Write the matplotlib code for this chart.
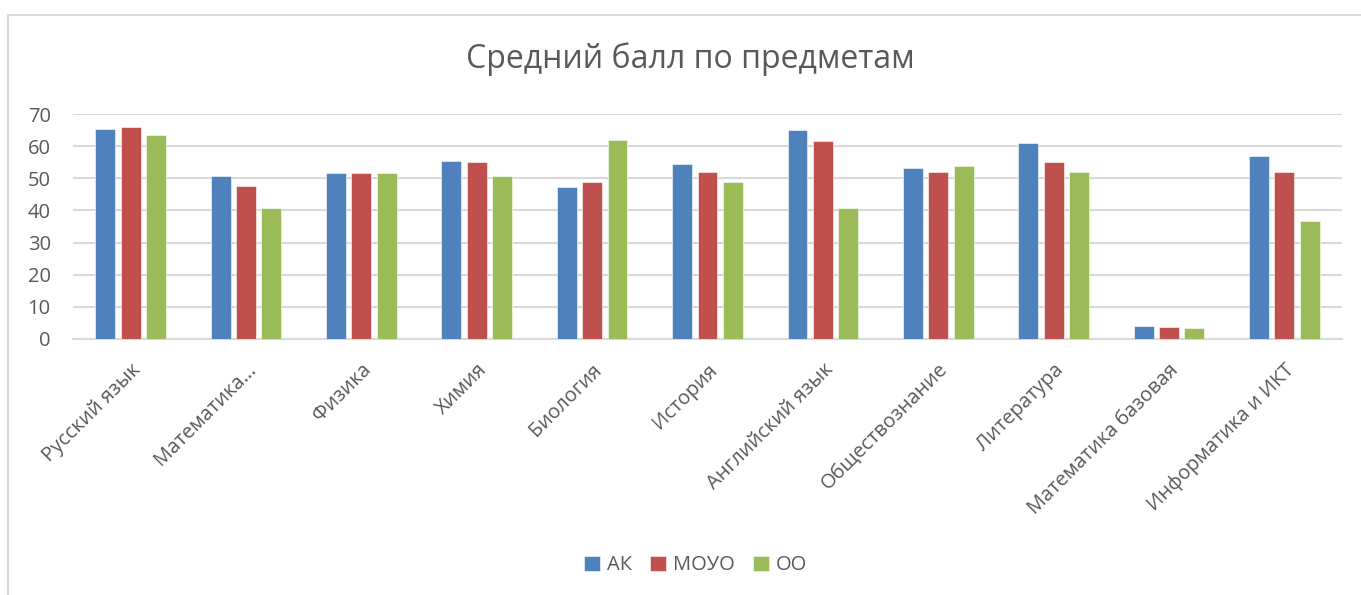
import matplotlib
matplotlib.use("Agg")
import matplotlib.pyplot as plt
import numpy as np
from matplotlib.patches import Rectangle

plt.rcParams['font.family'] = ['Open Sans', 'DejaVu Sans']

subjects = ["Русский язык", "Математика…", "Физика", "Химия", "Биология", "История",
            "Английский язык", "Обществознание", "Литература", "Математика базовая",
            "Информатика и ИКТ"]
ak = [65.3, 50.6, 51.6, 55.3, 47.4, 54.6, 64.9, 53.1, 60.9, 3.9, 57.0]
moyo = [66.0, 47.6, 51.8, 55.1, 49.0, 51.9, 61.6, 52.1, 55.1, 3.7, 52.1]
oo = [63.5, 40.7, 51.8, 50.8, 61.9, 49.0, 40.7, 53.8, 51.9, 3.5, 36.6]
series = [("АК", ak, "#4F81BD"), ("МОУО", moyo, "#C0504D"), ("ОО", oo, "#9BBB59")]

fig = plt.figure(figsize=(13.61, 5.95), dpi=100)
fig.patches.append(Rectangle((8 / 1361, -0.1), 1.2, 1 - 15 / 595 + 0.1, transform=fig.transFigure,
                             fill=False, edgecolor="#D9D9D9", linewidth=1.5))
ax = fig.add_axes([73 / 1361, 1 - 339 / 595, (1342 - 73) / 1361, (339 - 114) / 595])

x = np.arange(len(subjects))
w = 0.173
step = 0.22
for i, (name, vals, col) in enumerate(series):
    ax.bar(x + (i - 1) * step, vals, w, color=col, label=name, edgecolor="white", linewidth=0.4, zorder=3)

ax.set_xlim(-0.5, len(subjects) - 0.5)
ax.set_ylim(0, 70)
ax.set_yticks(range(0, 71, 10))
ax.yaxis.grid(True, color="#D9D9D9", linewidth=1.5, zorder=0)
ax.set_axisbelow(True)
for s in ["top", "right", "left"]:
    ax.spines[s].set_visible(False)
ax.spines["bottom"].set_color("#D9D9D9")
ax.spines["bottom"].set_linewidth(1.5)
ax.tick_params(axis="both", length=0, labelsize=14.5, labelcolor="#595959")
ax.tick_params(axis="y", pad=16)
ax.set_xticks(x)
ax.set_xticklabels(subjects, rotation=45, ha="right", rotation_mode="anchor")
ax.tick_params(axis="x", pad=15)

fig.text(0.507, 0.9, "Средний балл по предметам", ha="center", va="center", fontsize=23, color="#595959")
fig.legend(loc="center", bbox_to_anchor=(0.511, 0.05), ncol=3, frameon=False, fontsize=14.5,
           handlelength=0.8, handleheight=0.8, handletextpad=0.35, columnspacing=0.9,
           labelcolor="#595959")

fig.savefig("out.png", dpi=100)
